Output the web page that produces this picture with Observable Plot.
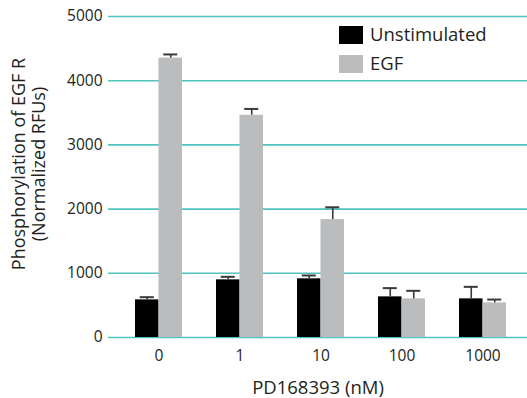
<!DOCTYPE html>
<html>
<head>
<meta charset="utf-8">
<script src="https://cdn.jsdelivr.net/npm/d3@7"></script>
<script src="https://cdn.jsdelivr.net/npm/@observablehq/plot@0.6"></script>
<style>
  html, body { margin: 0; padding: 0; background: #fff; }
  #wrap { position: relative; width: 527px; height: 398px; font-family: "Open Sans", sans-serif; color: #231f20; }
  .leg { position: absolute; font-size: 18.5px; line-height: 18px; }
  .sw { position: absolute; width: 24px; height: 18px; }
</style>
</head>
<body>
<div id="wrap"></div>
<script>
const concentrations = ["0", "1", "10", "100", "1000"];
const unstimulated = [586, 898, 914, 633, 602];
const unstimulatedErr = [42, 47, 52, 136, 187];
const egf = [4352, 3461, 1836, 602, 539];
const egfErr = [57, 99, 192, 125, 52];
const yTicks = [0, 1000, 2000, 3000, 4000, 5000];
const seriesNames = ["Unstimulated", "EGF"];
const seriesColors = ["#000000", "#bbbcbe"];

const rows = concentrations.map((c, i) => ({c, u: unstimulated[i], ue: unstimulated[i] + unstimulatedErr[i], e: egf[i], ee: egf[i] + egfErr[i]}));

const bw = 419 / (5 - 0.425 + 2 * 0.277) * (1 - 0.425);
const half = bw / 2;
const capHalf = 7;
const errColor = "#3a3a3a";

const plot = Plot.plot({
  width: 527,
  height: 398,
  marginLeft: 108,
  marginRight: 0,
  marginTop: 16,
  marginBottom: 61,
  style: {fontFamily: "Open Sans, sans-serif", color: "#231f20", background: "#fff"},
  x: {type: "band", domain: concentrations, paddingInner: 0.425, paddingOuter: 0.277, align: 0.55},
  y: {domain: [0, 5000]},
  marks: [
    Plot.ruleY(yTicks, {stroke: "#4fc4c0", strokeWidth: 1.6}),
    Plot.barY(rows, {x: "c", y: "u", fill: seriesColors[0], insetRight: half}),
    Plot.barY(rows, {x: "c", y: "e", fill: seriesColors[1], insetLeft: half}),
    Plot.ruleX(rows, {x: "c", y1: "u", y2: "ue", dx: -half / 2, stroke: errColor, strokeWidth: 1.6}),
    Plot.ruleX(rows, {x: "c", y1: "e", y2: "ee", dx: half / 2, stroke: errColor, strokeWidth: 1.6}),
    Plot.tickY(rows, {x: "c", y: "ue", insetLeft: half / 2 - capHalf, insetRight: bw - half / 2 - capHalf, stroke: errColor, strokeWidth: 2}),
    Plot.tickY(rows, {x: "c", y: "ee", insetLeft: bw - half / 2 - capHalf, insetRight: half / 2 - capHalf, stroke: errColor, strokeWidth: 2}),
    Plot.axisY({ticks: yTicks, tickSize: 0, tickPadding: 6, tickFormat: d => String(d), fontSize: 15.5, label: null}),
    Plot.axisX({tickSize: 0, tickPadding: 12, fontSize: 15.5, label: null}),
    Plot.text(["PD168393 (nM)"], {frameAnchor: "bottom", dy: 56, fontSize: 18.5, fill: "#231f20", textAnchor: "middle"}),
    Plot.text(["Phosphorylation of EGF R\n(Normalized RFUs)"], {frameAnchor: "left", rotate: -90, dx: -80, dy: -13, fontSize: 18, lineHeight: 1.12, fill: "#231f20", textAnchor: "middle", lineAnchor: "middle"})
  ]
});

const wrap = document.getElementById("wrap");
wrap.appendChild(plot);

const legendTops = [26, 55];
seriesNames.forEach((name, i) => {
  const sw = document.createElement("div");
  sw.className = "sw";
  sw.style.left = "339px";
  sw.style.top = legendTops[i] + "px";
  sw.style.background = seriesColors[i];
  wrap.appendChild(sw);
  const t = document.createElement("div");
  t.className = "leg";
  t.style.left = "370px";
  t.style.top = (legendTops[i] - 1) + "px";
  t.textContent = name;
  wrap.appendChild(t);
});
</script>
</body>
</html>
